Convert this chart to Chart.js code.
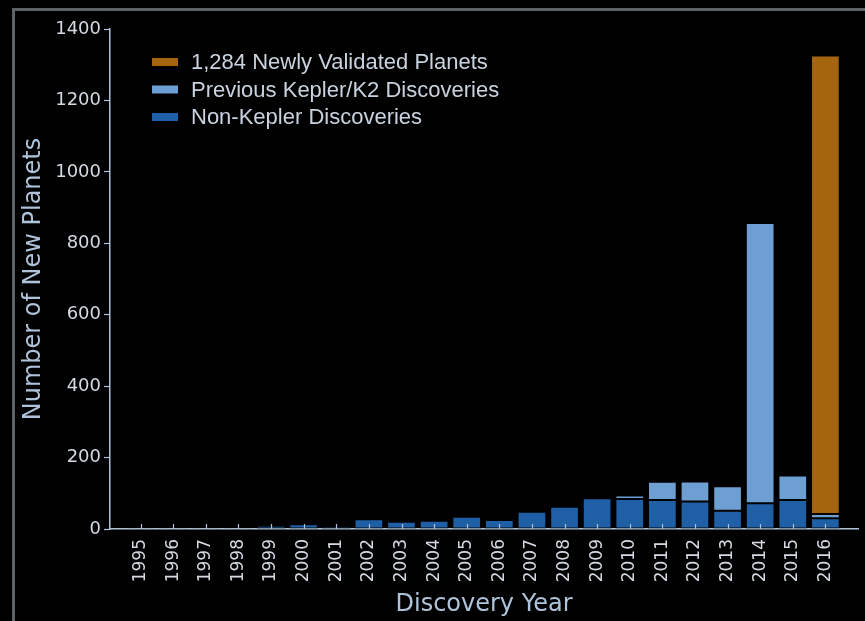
<!DOCTYPE html>
<html>
<head>
<meta charset="utf-8">
<script src="https://cdn.jsdelivr.net/npm/chart.js@4"></script>
<style>
  html, body { margin: 0; padding: 0; background: #000; }
  #wrap { position: relative; width: 865px; height: 621px; background: #000; }
  #frame { position: absolute; left: 12px; top: 8px; right: 0; bottom: 0;
           border-top: 3px solid #5c6068; border-left: 3px solid #5c6068; }
  canvas { position: absolute; left: 0; top: 0; }
</style>
</head>
<body>
<div id="wrap">
  <div id="frame"></div>
  <canvas id="planetChart" width="865" height="621"></canvas>
</div>
<script>
// ===== Data =====
const years = [1995, 1996, 1997, 1998, 1999, 2000, 2001, 2002, 2003, 2004, 2005,
               2006, 2007, 2008, 2009, 2010, 2011, 2012, 2013, 2014, 2015, 2016];
const nonKepler = [1, 1, 1, 2, 9, 13, 8, 27, 20, 23, 34,
                   25, 48, 62, 86, 84, 81, 77, 51, 72, 81, 30];
const previousKepler = [0, 0, 0, 0, 0, 0, 0, 0, 0, 0, 0,
                        0, 0, 0, 0, 10, 51, 56, 69, 785, 69, 12];
const newlyValidated = [0, 0, 0, 0, 0, 0, 0, 0, 0, 0, 0,
                        0, 0, 0, 0, 0, 0, 0, 0, 0, 0, 1284];
const yTicks = [0, 200, 400, 600, 800, 1000, 1200, 1400];

const axisColor = "#aec3da";
const labelColor = "#d4d9e1";
const titleColor = "#aec3da";

const toPoints = arr => arr.map((v, i) => ({ x: years[i], y: v }));

// inward ticks on the x axis, like the original figure
const innerTicks = {
  id: "innerTicks",
  afterDatasetsDraw(chart) {
    const { ctx, scales: { x, y } } = chart;
    const base = y.getPixelForValue(0);
    ctx.save();
    ctx.strokeStyle = axisColor;
    ctx.lineWidth = 1.2;
    years.forEach(yr => {
      const px = Math.round(x.getPixelForValue(yr)) + 0.5;
      ctx.beginPath();
      ctx.moveTo(px, base);
      ctx.lineTo(px, base - 5);
      ctx.stroke();
    });
    ctx.restore();
  }
};

// legend inside the plot, top-left, listed top series first
const insideLegend = {
  id: "insideLegend",
  afterDraw(chart) {
    const { ctx } = chart;
    const sets = chart.data.datasets.slice().reverse();
    ctx.save();
    ctx.font = "22px 'Liberation Sans', Arial, sans-serif";
    ctx.textBaseline = "middle";
    sets.forEach((ds, i) => {
      const cy = 62 + i * 27.5;
      ctx.fillStyle = ds.backgroundColor;
      ctx.fillRect(152, cy - 4, 26, 8);
      ctx.fillStyle = "#c9d3df";
      ctx.fillText(ds.label, 191, cy + 1);
    });
    ctx.restore();
  }
};

const ctx = document.getElementById("planetChart").getContext("2d");
new Chart(ctx, {
  type: "bar",
  data: {
    datasets: [
      { label: "Non-Kepler Discoveries", data: toPoints(nonKepler),
        backgroundColor: "#1f5fa5" },
      { label: "Previous Kepler/K2 Discoveries", data: toPoints(previousKepler),
        backgroundColor: "#6e9fd2" },
      { label: "1,284 Newly Validated Planets", data: toPoints(newlyValidated),
        backgroundColor: "#a5650f" }
    ].map(d => Object.assign(d, {
      borderColor: "#000",
      borderWidth: 1,
      borderSkipped: false,
      barPercentage: 0.88,
      categoryPercentage: 1
    }))
  },
  options: {
    responsive: false,
    animation: false,
    layout: { padding: { left: 0, top: 29, right: 7, bottom: 0 } },
    scales: {
      x: {
        type: "linear",
        stacked: true,
        offset: false,
        min: 1994.06,
        max: 2017,
        afterBuildTicks: s => { s.ticks = years.map(v => ({ value: v })); },
        afterFit: s => { s.height = 92; },
        grid: { display: true, drawOnChartArea: false, drawTicks: false },
        border: { display: true, color: axisColor, width: 1.5 },
        ticks: {
          color: labelColor,
          font: { family: "'DejaVu Sans'", size: 17 },
          minRotation: 90,
          maxRotation: 90,
          padding: 10,
          callback: v => String(v)
        },
        title: {
          display: true,
          text: "Discovery Year",
          color: titleColor,
          font: { family: "'DejaVu Sans'", size: 24 },
          padding: { top: 0, bottom: 2 }
        }
      },
      y: {
        stacked: true,
        min: 0,
        max: 1400,
        afterBuildTicks: s => { s.ticks = yTicks.map(v => ({ value: v })); },
        afterFit: s => { s.width = 110; },
        grid: { drawOnChartArea: false, drawTicks: true, tickLength: 6,
                tickColor: axisColor, tickWidth: 1.2 },
        border: { display: true, color: axisColor, width: 1.5 },
        ticks: {
          color: labelColor,
          font: { family: "'DejaVu Sans'", size: 18 },
          padding: 3,
          callback: v => String(v)
        },
        title: {
          display: true,
          text: "Number of New Planets",
          color: titleColor,
          font: { family: "'DejaVu Sans'", size: 24 },
          padding: { top: 19, bottom: 0 }
        }
      }
    },
    plugins: {
      legend: { display: false },
      tooltip: { enabled: false }
    }
  },
  plugins: [innerTicks, insideLegend]
});
</script>
</body>
</html>
